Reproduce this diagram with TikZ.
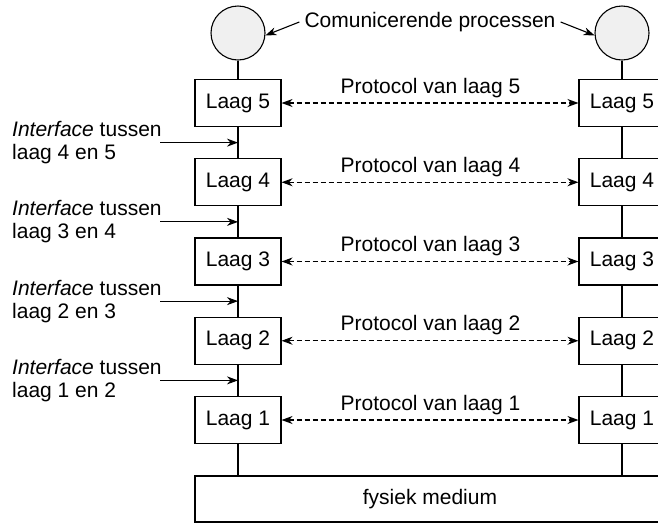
\documentclass[tikz,border=0pt]{standalone}
\usepackage{fontspec}
\setmainfont{Liberation Sans}
\usetikzlibrary{arrows.meta,calc}

\tikzset{
  every node/.style={font=\fontsize{21}{25}\selectfont},
  line/.style={line width=1.1pt},
  layerbox/.style={draw, line width=1.1pt, fill=white, minimum width=86pt, minimum height=47pt, inner sep=0pt},
  proc/.style={circle, draw, line width=1.1pt, fill=gray!12, minimum size=54pt, inner sep=0pt},
  head/.tip={Stealth[length=11pt,width=8pt,inset=3.5pt]},
  tip/.style={-head, line width=1.1pt},
  peer/.style={head-head, line width=1.1pt, dash pattern=on 5pt off 3pt},
  lbl/.style={inner sep=0pt, anchor=base west},
}

\begin{document}
\begin{tikzpicture}[x=1pt, y=-1pt]
  \clip (0,0) rectangle (658,523);

  % processes
  \node[proc] (cl) at (238,33) {};
  \node[proc] (cr) at (622,33) {};
  \node[inner sep=5pt] (procs) at (430,22) {Comunicerende processen};
  \draw[tip] (procs.west) -- (cl.-5);
  \draw[tip] (procs.east) -- (cr.185);

  % layer stacks
  \foreach \n/\y in {5/103, 4/182.25, 3/261.5, 2/340.75, 1/420} {
    \node[layerbox] (l\n) at (238,\y) {Laag \n};
    \node[layerbox] (r\n) at (622,\y) {Laag \n};
    \draw[peer] (l\n.east) -- (r\n.west);
    \node[inner sep=0pt, anchor=base] (p\n) at (430.5,\y-10) {Protocol van laag \n};
  }

  % physical medium
  \node[draw, line width=1.1pt, minimum width=470pt, minimum height=46pt, inner sep=0pt] (med) at (430,499) {fysiek medium};

  % vertical links
  \draw[line] (cl.south) -- (l5.north);
  \draw[line] (cr.south) -- (r5.north);
  \foreach \a/\b in {5/4, 4/3, 3/2, 2/1} {
    \draw[line] (l\a.south) -- (l\b.north);
    \draw[line] (r\a.south) -- (r\b.north);
  }
  \draw[line] (l1.south) -- (l1.south |- med.north);
  \draw[line] (r1.south) -- (r1.south |- med.north);

  % interfaces between adjacent layers
  \foreach \a/\b in {5/4, 4/3, 3/2, 2/1} {
    \coordinate (if\a) at ($(l\a.south)!0.5!(l\b.north)$);
    \coordinate (is\a) at (160,0 |- if\a);
    \node[lbl] (it\a) at ($(12,0 |- if\a)+(0,-6)$) {\textit{Interface} tussen};
    \node[lbl] (iu\a) at ($(12,0 |- if\a)+(0,17)$) {laag \b\ en \a};
    \draw[tip] (is\a) -- (if\a);
  }
\end{tikzpicture}
\end{document}
